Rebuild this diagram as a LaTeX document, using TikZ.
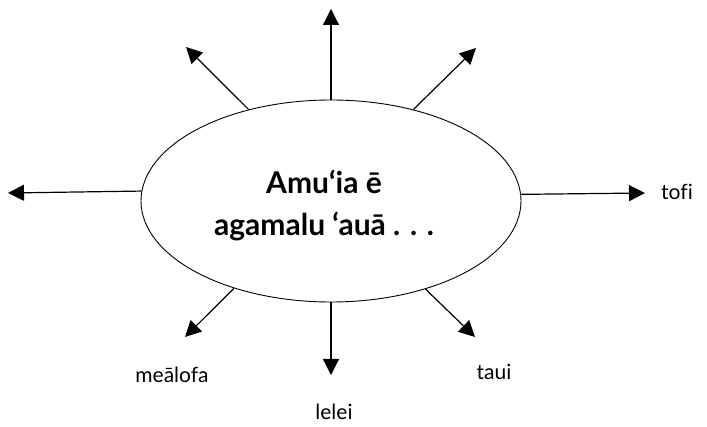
\documentclass[tikz,border=0pt]{standalone}
\usepackage{fontspec}
\setmainfont{Lato}[Ligatures=CommonOff]
\usetikzlibrary{positioning,arrows.meta,shapes.geometric}
\tikzset{
  hub/.style={ellipse,draw,line width=0.9pt,minimum width=380pt,minimum height=202pt,inner sep=0pt},
  spoke/.style={-{Triangle[length=16pt,width=16pt]},line width=1.2pt},
  word/.style={font=\fontsize{21}{25}\selectfont,inner sep=0pt}
}

\begin{document}
\begin{tikzpicture}[x=1pt,y=-1pt]
    \useasboundingbox (0,0) rectangle (707,427);
    \node at (331,201) [hub] (core) {};
    \node at (324,206) [align=center,inner sep=0pt,font=\fontsize{30}{42}\selectfont\bfseries] (title) {Amu‘ia ē\\agamalu ‘auā . . .};

    \coordinate (up) at (331,9);
    \coordinate (upleft) at (186,47);
    \coordinate (upright) at (476,48);
    \coordinate (left) at (8,193);
    \coordinate (right) at (645,193);
    \coordinate (downleft) at (185,337);
    \coordinate (down) at (331,375);
    \coordinate (downright) at (475,337);

    \node at (677,192) [word] (tofi) {tofi};
    \node at (172,375) [word] (mealofa) {meālofa};
    \node at (334,412) [word] (lelei) {lelei};
    \node at (494,372) [word] (taui) {taui};

    \path[spoke]
    (core.90) edge (up)
    (core.132) edge (upleft)
    (core.48) edge (upright)
    (core.177.6) edge (left)
    (core.2.4) edge (right)
    (core.222.6) edge (downleft)
    (core.270) edge (down)
    (core.-43) edge (downright);
\end{tikzpicture}
\end{document}
